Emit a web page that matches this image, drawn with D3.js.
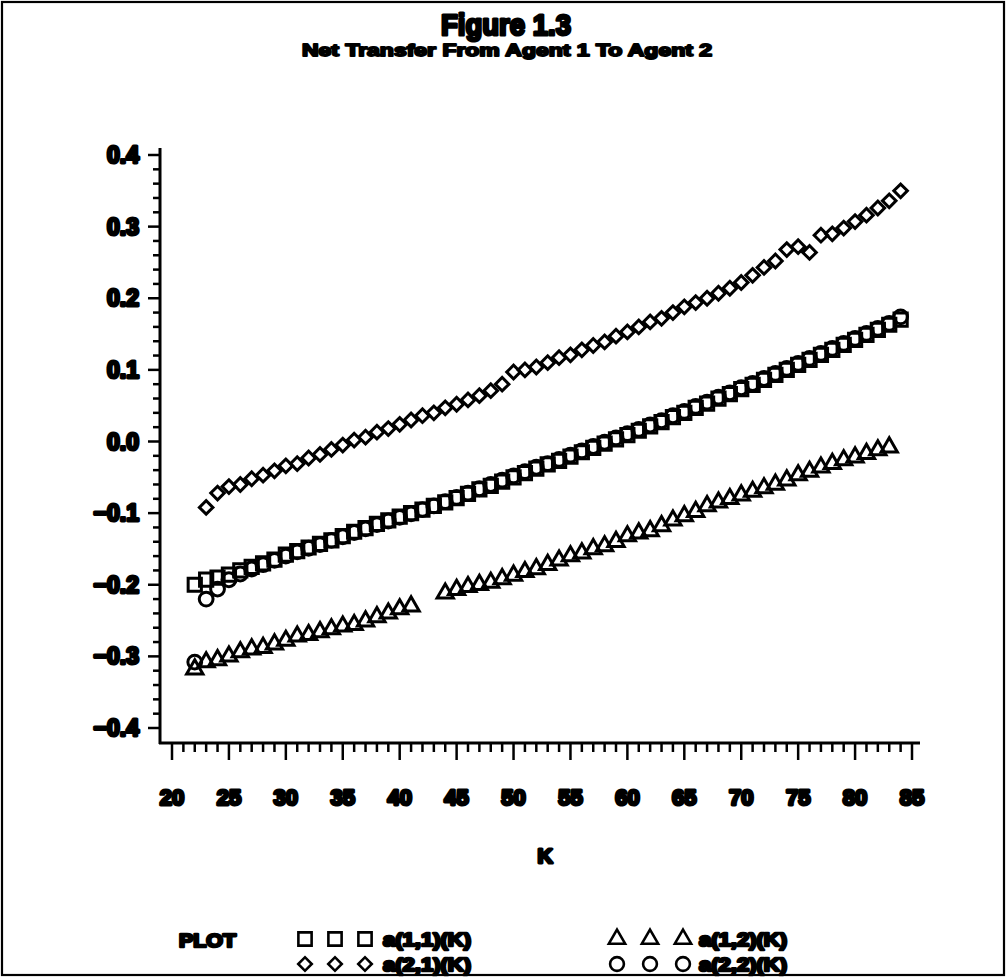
<!DOCTYPE html>
<html>
<head>
<meta charset="utf-8">
<script src="https://cdn.jsdelivr.net/npm/d3@7"></script>
<style>
body { margin:0; background:#fff; }
text { font-family:"Liberation Sans", Arial, sans-serif; font-weight:bold; fill:#000; stroke-linejoin:round; }
</style>
</head>
<body>
<svg id="chart" width="1008" height="980"></svg>
<script>
// data
var kSquare = d3.range(22, 85);
var a11 = [-0.200,-0.193,-0.190,-0.186,-0.180,-0.175,-0.170,-0.165,-0.158,-0.153,
           -0.148,-0.143,-0.138,-0.132,-0.126,-0.121,-0.115,-0.110,-0.105,-0.100,
           -0.095,-0.090,-0.085,-0.079,-0.073,-0.067,-0.062,-0.056,-0.050,-0.044,
           -0.038,-0.032,-0.027,-0.021,-0.015,-0.009,-0.003,0.003,0.009,0.015,
           0.021,0.027,0.034,0.040,0.047,0.053,0.060,0.066,0.073,0.079,
           0.086,0.093,0.100,0.107,0.114,0.121,0.128,0.135,0.142,0.149,
           0.156,0.163,0.170];

var kCircle = d3.range(22, 85);
var a22 = [-0.308,-0.220,-0.206,-0.193,-0.185,-0.178,-0.172,-0.166,-0.160,-0.154,
           -0.149,-0.144,-0.138,-0.133,-0.127,-0.122,-0.116,-0.111,-0.106,-0.101,
           -0.095,-0.090,-0.084,-0.078,-0.072,-0.066,-0.060,-0.054,-0.048,-0.042,
           -0.036,-0.031,-0.025,-0.019,-0.013,-0.007,-0.001,0.005,0.011,0.017,
           0.023,0.029,0.036,0.042,0.049,0.055,0.062,0.068,0.075,0.081,
           0.088,0.095,0.102,0.109,0.116,0.123,0.130,0.137,0.144,0.151,
           0.158,0.165,0.174];

var kTriangle = [22,23,24,25,26,27,28,29,30,31,32,33,34,35,36,37,38,39,40,41,
                 44,45,46,47,48,49,50,51,52,53,54,55,56,57,58,59,60,61,62,63,
                 64,65,66,67,68,69,70,71,72,73,74,75,76,77,78,79,80,81,82,83];
var a12 = [-0.318,-0.308,-0.305,-0.300,-0.294,-0.290,-0.288,-0.283,-0.278,-0.272,
           -0.270,-0.266,-0.262,-0.258,-0.256,-0.251,-0.245,-0.240,-0.234,-0.230,
           -0.212,-0.207,-0.203,-0.200,-0.197,-0.192,-0.187,-0.182,-0.178,-0.172,
           -0.166,-0.160,-0.156,-0.150,-0.146,-0.140,-0.132,-0.128,-0.125,-0.118,
           -0.110,-0.104,-0.098,-0.090,-0.085,-0.080,-0.075,-0.070,-0.065,-0.060,
           -0.054,-0.047,-0.042,-0.036,-0.031,-0.026,-0.022,-0.017,-0.012,-0.008];

var kDiamond = d3.range(23, 85);
var a21 = [-0.092,-0.072,-0.063,-0.060,-0.052,-0.047,-0.041,-0.034,-0.031,-0.023,
           -0.018,-0.011,-0.005,0.002,0.006,0.013,0.018,0.024,0.030,0.036,
           0.040,0.047,0.052,0.058,0.064,0.071,0.080,0.097,0.100,0.104,
           0.110,0.117,0.121,0.128,0.134,0.139,0.147,0.153,0.160,0.167,
           0.172,0.180,0.188,0.194,0.200,0.207,0.214,0.222,0.232,0.243,
           0.252,0.268,0.272,0.264,0.288,0.290,0.298,0.307,0.316,0.326,
           0.336,0.350];

var yTicks = [-0.4,-0.3,-0.2,-0.1,0.0,0.1,0.2,0.3,0.4];
var xTicks = [20,25,30,35,40,45,50,55,60,65,70,75,80,85];
var legendLabels = ['a(1,1)(K)','a(1,2)(K)','a(2,1)(K)','a(2,2)(K)'];

var svg = d3.select('#chart');
var colorBlack = '#000';

// frame
svg.append('rect')
   .attr('x',2).attr('y',2)
   .attr('width',1002).attr('height',973)
   .attr('fill','none')
   .attr('stroke',colorBlack)
   .attr('stroke-width',2.2);

// titles
svg.append('text')
   .text('Figure 1.3')
   .attr('x',506).attr('y',35)
   .attr('text-anchor','middle')
   .attr('textLength',130)
   .attr('lengthAdjust','spacingAndGlyphs')
   .style('font-size','30px')
   .attr('stroke',colorBlack).attr('stroke-width',3);
svg.append('text')
   .text('Net Transfer From Agent 1 To Agent 2')
   .attr('x',507).attr('y',56)
   .attr('text-anchor','middle')
   .attr('textLength',410)
   .attr('lengthAdjust','spacingAndGlyphs')
   .style('font-size','16px')
   .attr('stroke',colorBlack).attr('stroke-width',1.8);

// scales
var x = d3.scaleLinear().domain([20,85]).range([172,912]);
var y = d3.scaleLinear().domain([-0.4,0.4]).range([728,155]);
var xLeft = 160, yBottom = 743, yTop = 148, xRight = 920;

// axis lines
svg.append('line').attr('x1',xLeft).attr('y1',yTop).attr('x2',xLeft).attr('y2',yBottom+1)
   .attr('stroke',colorBlack).attr('stroke-width',3);
svg.append('line').attr('x1',xLeft-1).attr('y1',yBottom).attr('x2',xRight).attr('y2',yBottom)
   .attr('stroke',colorBlack).attr('stroke-width',3);

// y ticks
var yMinor = d3.range(-20,21).map(function(i){ return i/50; });
var yAxis = svg.append('g').attr('transform','translate('+xLeft+',0)');
yAxis.selectAll('line').data(yMinor).enter().append('line')
     .attr('x1',function(d,i){ return i%5===0 ? -12 : -7; })
     .attr('x2',0)
     .attr('y1',function(d){ return y(d); })
     .attr('y2',function(d){ return y(d); })
     .attr('stroke',colorBlack).attr('stroke-width',2.5);
yAxis.selectAll('text').data(yTicks).enter().append('text')
     .text(function(d){ return d<0 ? '\u2212'+d3.format('.1f')(-d) : d3.format('.1f')(d); })
     .attr('x',-21)
     .attr('y',function(d){ return y(d)+8; })
     .attr('text-anchor','end')
     .style('font-size','23px')
     .attr('stroke',colorBlack).attr('stroke-width',3);

// x ticks
var xMinor = d3.range(20,86);
var xAxis = svg.append('g').attr('transform','translate(0,'+yBottom+')');
xAxis.selectAll('line').data(xMinor).enter().append('line')
     .attr('x1',function(d){ return x(d); })
     .attr('x2',function(d){ return x(d); })
     .attr('y1',0)
     .attr('y2',function(d){ return d%5===0 ? 17 : 9; })
     .attr('stroke',colorBlack).attr('stroke-width',2.5);
xAxis.selectAll('text').data(xTicks).enter().append('text')
     .text(function(d){ return d; })
     .attr('x',function(d){ return x(d); })
     .attr('y',62)
     .attr('text-anchor','middle')
     .style('font-size','22px')
     .attr('stroke',colorBlack).attr('stroke-width',3);

svg.append('text')
   .text('K')
   .attr('x',545).attr('y',863)
   .attr('text-anchor','middle')
   .style('font-size','21px')
   .attr('stroke',colorBlack).attr('stroke-width',3);

// symbols
var symSquare = d3.symbol().type(d3.symbolSquare).size(175);
var symDiamond = d3.symbol().type(d3.symbolSquare).size(92);
var symTriangle = d3.symbol().type(d3.symbolTriangle).size(115);
var symCircle = d3.symbol().type(d3.symbolCircle).size(150);

function drawSeries(ks, vals, sym, rot) {
  svg.append('g').selectAll('path').data(ks).enter().append('path')
     .attr('d',sym)
     .attr('transform',function(d,i){ return 'translate('+x(d)+','+y(vals[i])+') rotate('+rot+')'; })
     .attr('fill','none')
     .attr('stroke',colorBlack)
     .attr('stroke-width',3);
}
drawSeries(kTriangle, a12, symTriangle, 0);
drawSeries(kCircle, a22, symCircle, 0);
drawSeries(kSquare, a11, symSquare, 0);
drawSeries(kDiamond, a21, symDiamond, 45);

// legend
svg.append('text')
   .text('PLOT')
   .attr('x',179).attr('y',947)
   .attr('textLength',57)
   .attr('lengthAdjust','spacingAndGlyphs')
   .style('font-size','19px')
   .attr('stroke',colorBlack).attr('stroke-width',2.6);

var legendSyms = [[symSquare,0],[symTriangle,0],[symDiamond,45],[symCircle,0]];
var legendX = [305,617,305,617];
var legendY = [939,939,964,964];
legendLabels.forEach(function(lab,i){
  [0,30,60].forEach(function(dx){
    svg.append('path')
       .attr('d',legendSyms[i][0])
       .attr('transform','translate('+(legendX[i]+dx+(i%2?3*dx/30:0))+','+legendY[i]+') rotate('+legendSyms[i][1]+')')
       .attr('fill','none')
       .attr('stroke',colorBlack)
       .attr('stroke-width',2.6);
  });
  svg.append('text')
     .text(lab)
     .attr('x',legendX[i]+78+(i%2?4:0))
     .attr('y',legendY[i]+7)
     .attr('textLength',88)
     .attr('lengthAdjust','spacingAndGlyphs')
     .style('font-size','19px')
     .attr('stroke',colorBlack).attr('stroke-width',2.6);
});
</script>
</body>
</html>
